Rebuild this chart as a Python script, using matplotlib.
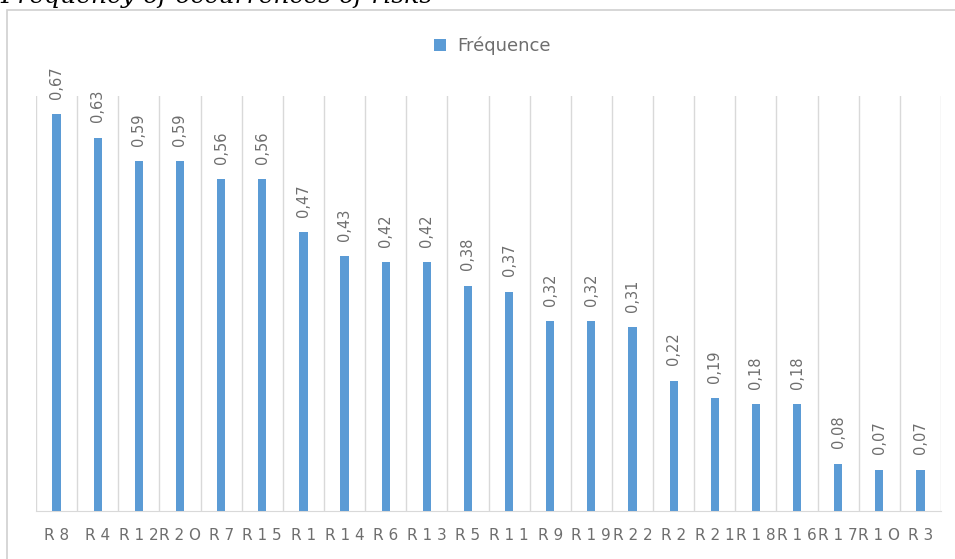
import matplotlib
matplotlib.use('Agg')
import matplotlib.pyplot as plt
from matplotlib.patches import Rectangle

# données du graphique
risques = ['R 8', 'R 4', 'R 1 2', 'R 2 O', 'R 7', 'R 1 5', 'R 1', 'R 1 4', 'R 6', 'R 1 3', 'R 5',
           'R 1 1', 'R 9', 'R 1 9', 'R 2 2', 'R 2', 'R 2 1', 'R 1 8', 'R 1 6', 'R 1 7', 'R 1 O', 'R 3']
frequence = [0.67, 0.63, 0.59, 0.59, 0.56, 0.56, 0.47, 0.43, 0.42, 0.42, 0.38,
             0.37, 0.32, 0.32, 0.31, 0.22, 0.19, 0.18, 0.18, 0.08, 0.07, 0.07]
etiquettes = ['{:.2f}'.format(v).replace('.', ',') for v in frequence]

bleu = '#5b9bd5'
gris = '#595959'

fig = plt.figure(figsize=(9.55, 5.59), dpi=100)

# cadre du graphique (coupé à droite et en bas)
cadre = Rectangle((7 / 955, -0.05), 1.0, 1 - 10 / 559 + 0.05, transform=fig.transFigure,
                  fill=False, edgecolor='#d0d0d0', linewidth=1.2)
fig.patches.append(cadre)

# titre coupé en haut
fig.text(0.0, 1 - 3.5 / 559, 'Frequency of occurrences of risks', fontsize=18,
         family='DejaVu Serif', style='italic', va='baseline', ha='left', color='black')

ax = fig.add_axes([36 / 955, 48 / 559, (941 - 36) / 955, (511 - 96) / 559])
x = list(range(len(risques)))
barres = ax.bar(x, frequence, width=0.2, color=bleu, label='Fréquence', zorder=3)

for xi, v, lab in zip(x, frequence, etiquettes):
    ax.annotate(lab, (xi, v), xytext=(0, 11), textcoords='offset points', rotation=90,
                ha='center', va='bottom', fontsize=10.5, color='#6e6e6e')

ax.set_xlim(-0.5, len(risques) - 0.5)
ax.set_ylim(0, 0.7)
ax.set_xticks(x)
ax.set_xticklabels(risques, fontsize=11, color='#6e6e6e')
ax.tick_params(axis='x', length=0, pad=12)
ax.set_yticks([])

# lignes verticales entre les catégories
for b in range(len(risques) + 1):
    ax.axvline(b - 0.5, color='#d9d9d9', linewidth=1, zorder=1)

for s in ['top', 'right', 'left']:
    ax.spines[s].set_visible(False)
ax.spines['bottom'].set_color('#d9d9d9')

fig.legend(handles=[barres], labels=['Fréquence'], loc='center', bbox_to_anchor=(492 / 955, 1 - 46 / 559),
           frameon=False, fontsize=13, labelcolor='#6e6e6e', handlelength=0.7, handleheight=0.7,
           handletextpad=0.6)

fig.savefig('out.png', dpi=100)
